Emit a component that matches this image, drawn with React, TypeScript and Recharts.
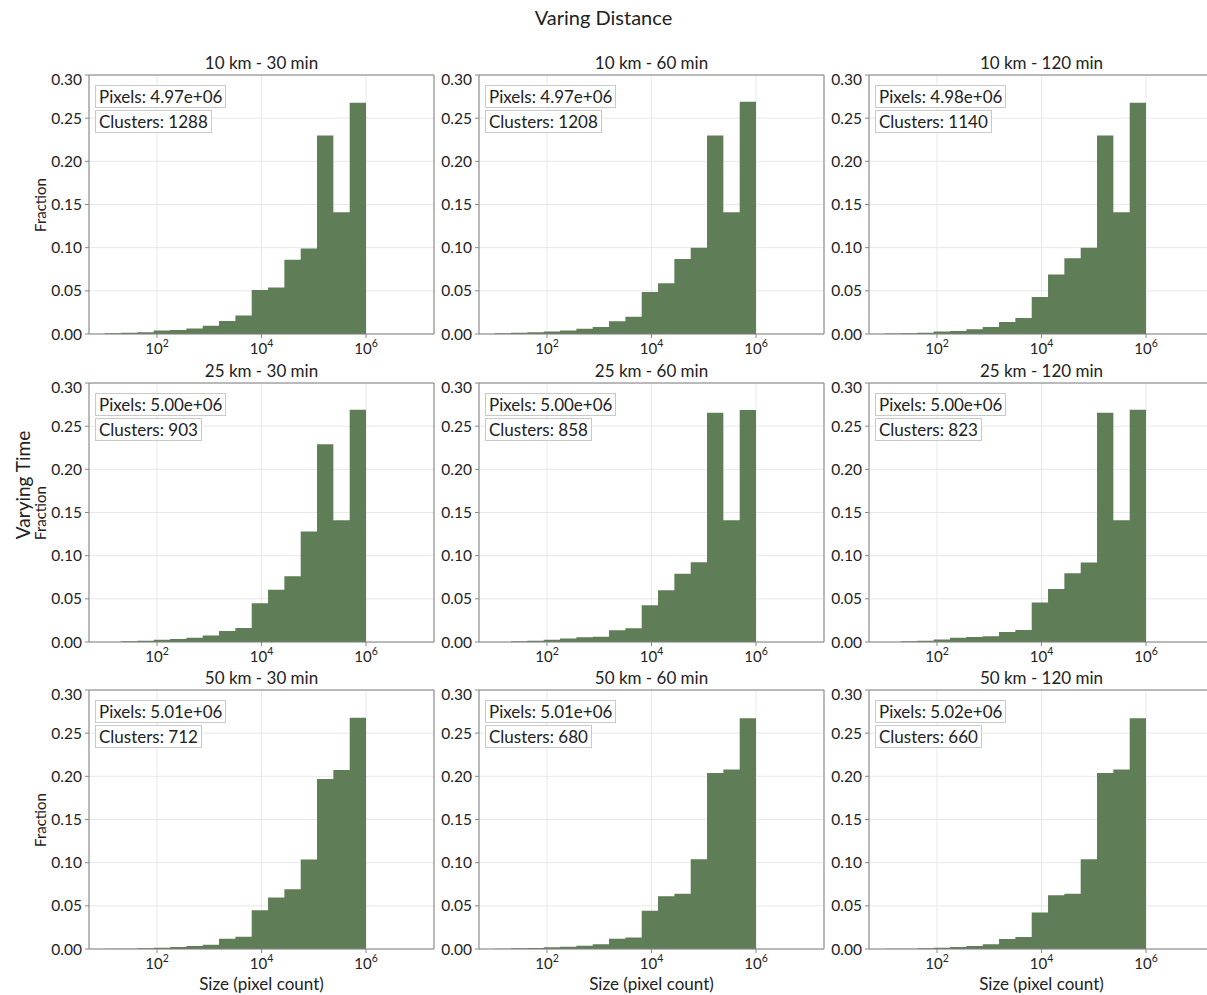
import React from 'react';
import { AreaChart, Area, XAxis, YAxis, CartesianGrid, ReferenceArea } from 'recharts';

// log-spaced histogram bin edges (10 .. 1e6, 16 bins)
const BIN_EDGES = [
  10, 20.54, 42.17, 86.6, 177.8, 365.2, 749.9, 1539.9, 3162.3, 6493.8,
  13335, 27384, 56234, 115478, 237137, 486968, 1000000,
];

const X_TICKS = [100, 10000, 1000000];
const Y_TICKS = [0, 0.05, 0.1, 0.15, 0.2, 0.25, 0.3];

const TITLES = [
  '10 km - 30 min', '10 km - 60 min', '10 km - 120 min',
  '25 km - 30 min', '25 km - 60 min', '25 km - 120 min',
  '50 km - 30 min', '50 km - 60 min', '50 km - 120 min',
];
const PIXELS = [
  '4.97e+06', '4.97e+06', '4.98e+06',
  '5.00e+06', '5.00e+06', '5.00e+06',
  '5.01e+06', '5.01e+06', '5.02e+06',
];
const CLUSTERS = [1288, 1208, 1140, 903, 858, 823, 712, 680, 660];

// fraction of pixels per size bin
const frac10km30 = [0.0008, 0.0015, 0.002, 0.004, 0.0045, 0.0065, 0.0095, 0.015, 0.0215, 0.051, 0.054, 0.086, 0.099, 0.23, 0.141, 0.268];
const frac10km60 = [0.001, 0.0015, 0.002, 0.003, 0.004, 0.006, 0.008, 0.0147, 0.02, 0.0487, 0.0587, 0.087, 0.1, 0.23, 0.141, 0.269];
const frac10km120 = [0.0005, 0.001, 0.0015, 0.003, 0.0035, 0.0055, 0.008, 0.014, 0.0185, 0.043, 0.069, 0.0877, 0.1, 0.23, 0.141, 0.268];
const frac25km30 = [0, 0.0008, 0.0015, 0.0027, 0.0035, 0.005, 0.0074, 0.0128, 0.0163, 0.0449, 0.0604, 0.0762, 0.128, 0.229, 0.141, 0.269];
const frac25km60 = [0, 0.0008, 0.0015, 0.0027, 0.004, 0.0054, 0.006, 0.0135, 0.016, 0.0426, 0.06, 0.079, 0.0925, 0.2655, 0.141, 0.2686];
const frac25km120 = [0, 0.0008, 0.0015, 0.003, 0.005, 0.0058, 0.0066, 0.0116, 0.014, 0.0457, 0.0615, 0.0797, 0.092, 0.2655, 0.141, 0.269];
const frac50km30 = [0.0004, 0.0004, 0.001, 0.0015, 0.0023, 0.0035, 0.005, 0.012, 0.0143, 0.0449, 0.0596, 0.0692, 0.1036, 0.197, 0.2073, 0.268];
const frac50km60 = [0.0004, 0.0008, 0.0012, 0.002, 0.0027, 0.0039, 0.0054, 0.012, 0.0132, 0.0442, 0.0612, 0.064, 0.1039, 0.204, 0.208, 0.2674];
const frac50km120 = [0.0004, 0.0004, 0.0008, 0.0015, 0.0023, 0.0035, 0.0054, 0.0116, 0.014, 0.0422, 0.0624, 0.064, 0.1039, 0.204, 0.208, 0.2674];

const SERIES = [
  frac10km30, frac10km60, frac10km120,
  frac25km30, frac25km60, frac25km120,
  frac50km30, frac50km60, frac50km120,
];

const BAR_COLOR = '#5f7e57';
const FONT = 'Lato, "Open Sans", sans-serif';
const COL_LEFT = [89, 479, 869];
const ROW_TOP = [75, 383, 690];
const PLOT_W = 345;
const PLOT_H = 259;
const Y_AXIS_W = 60;
const X_DOMAIN = [5, 2e7];

// step points for a filled histogram outline
const toSteps = (values: number[]) =>
  BIN_EDGES.map((edge, i) => ({ x: edge, y: values[Math.min(i, values.length - 1)] }));

const LogTick = (props: any) => {
  const { x, y, payload } = props;
  const exp = Math.round(Math.log10(payload.value));
  return (
    <text x={x} y={y + 14} textAnchor="middle" fill="#222" fontSize={15} fontFamily={FONT}>
      <tspan>10</tspan>
      <tspan dy={-7} fontSize={10.5}>{exp}</tspan>
    </text>
  );
};

const boxStyle: React.CSSProperties = {
  position: 'absolute',
  background: '#fff',
  border: '1px solid #c9c9c9',
  padding: '0px 3px',
  fontSize: 17,
  lineHeight: '21px',
  color: '#222',
  whiteSpace: 'nowrap',
};

const Panel: React.FC<{ idx: number }> = ({ idx }) => {
  const col = idx % 3;
  const row = Math.floor(idx / 3);
  const left = COL_LEFT[col];
  const top = ROW_TOP[row];
  return (
    <>
      <div style={{ position: 'absolute', left, top: top - 23, width: PLOT_W, textAlign: 'center', fontSize: 17, color: '#222' }}>
        {TITLES[idx]}
      </div>
      <div style={{ position: 'absolute', left: left - Y_AXIS_W, top: top - 5 }}>
        <AreaChart
          width={PLOT_W + Y_AXIS_W + 5}
          height={PLOT_H + 5 + 30}
          data={toSteps(SERIES[idx])}
          margin={{ top: 5, right: 5, bottom: 0, left: 0 }}
        >
          <CartesianGrid stroke="#e8e8e8" strokeWidth={1} />
          <XAxis
            dataKey="x"
            type="number"
            scale="log"
            domain={X_DOMAIN}
            allowDataOverflow
            ticks={X_TICKS}
            tick={<LogTick />}
            tickSize={4}
            tickLine={{ stroke: '#888' }}
            axisLine={false}
            height={30}
          />
          <YAxis
            type="number"
            domain={[0, 0.3]}
            ticks={Y_TICKS}
            tickFormatter={(v: number) => v.toFixed(2)}
            tick={{ fill: '#222', fontSize: 15.5, fontFamily: FONT }}
            tickSize={4}
            tickMargin={3}
            tickLine={{ stroke: '#888' }}
            axisLine={false}
            width={Y_AXIS_W}
          />
          <Area
            type="stepAfter"
            dataKey="y"
            fill={BAR_COLOR}
            fillOpacity={1}
            stroke="none"
            baseValue={0}
            isAnimationActive={false}
          />
          <ReferenceArea x1={X_DOMAIN[0]} x2={X_DOMAIN[1]} y1={0} y2={0.3} fill="none" stroke="#808080" strokeWidth={1} ifOverflow="visible" />
        </AreaChart>
      </div>
      <div style={{ ...boxStyle, left: left + 6, top: top + 10 }}>Pixels: {PIXELS[idx]}</div>
      <div style={{ ...boxStyle, left: left + 6, top: top + 35 }}>Clusters: {CLUSTERS[idx]}</div>
      {col === 0 && (
        <div style={{ position: 'absolute', left: 40, top: top + PLOT_H / 2, transform: 'translate(-50%, -50%) rotate(-90deg)', fontSize: 15, color: '#222' }}>
          Fraction
        </div>
      )}
      {row === 2 && (
        <div style={{ position: 'absolute', left, top: top + PLOT_H + 24, width: PLOT_W, textAlign: 'center', fontSize: 17, color: '#222' }}>
          Size (pixel count)
        </div>
      )}
    </>
  );
};

export default function App() {
  return (
    <div style={{ position: 'absolute', left: 0, top: 0, width: 1207, height: 995, overflow: 'hidden', background: '#fff', fontFamily: FONT }}>
      <div style={{ position: 'absolute', left: 0, top: 5, width: 1207, textAlign: 'center', fontSize: 20, color: '#222' }}>
        Varing Distance
      </div>
      <div style={{ position: 'absolute', left: 22, top: 485, transform: 'translate(-50%, -50%) rotate(-90deg)', fontSize: 19, color: '#222', whiteSpace: 'nowrap' }}>
        Varying Time
      </div>
      {SERIES.map((_, i) => (
        <Panel key={i} idx={i} />
      ))}
    </div>
  );
}
